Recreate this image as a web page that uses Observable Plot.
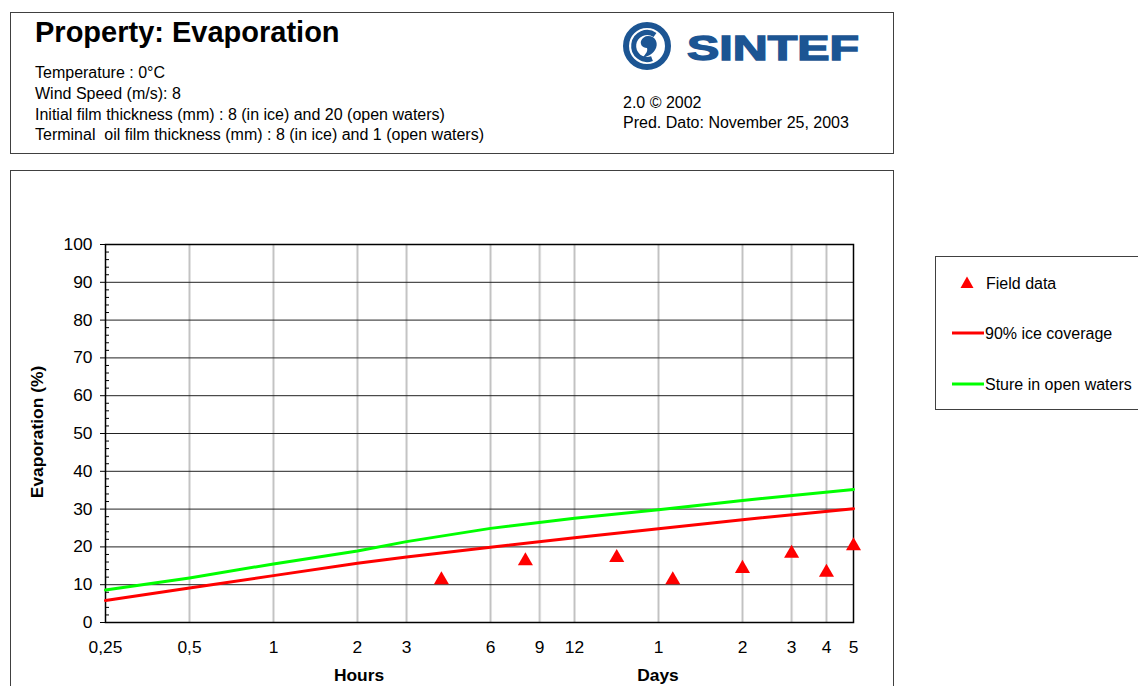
<!DOCTYPE html>
<html>
<head>
<meta charset="utf-8">
<script src="https://cdn.jsdelivr.net/npm/d3@7"></script>
<script src="https://cdn.jsdelivr.net/npm/@observablehq/plot@0.6"></script>
<style>
  html, body { margin: 0; padding: 0; background: #fff; }
  #page { position: relative; width: 1138px; height: 686px; overflow: hidden; background: #fff; font-family: "Liberation Sans", Arial, sans-serif; }
  #page svg { position: absolute; left: 0; top: 0; }
</style>
</head>
<body>
<div id="page">
<svg id="bg" width="1138" height="686" xmlns="http://www.w3.org/2000/svg" font-family="Liberation Sans, Arial, sans-serif">
  <!-- header box -->
  <rect x="10.5" y="12.5" width="883" height="141" fill="#fff" stroke="#404040" stroke-width="1"/>
  <text x="35" y="42" font-size="29" font-weight="bold" fill="#000">Property: Evaporation</text>
  <text x="35" y="78" font-size="16" fill="#000">Temperature : 0°C</text>
  <text x="35" y="99" font-size="16" fill="#000">Wind Speed (m/s): 8</text>
  <text x="35" y="120" font-size="16" fill="#000">Initial film thickness (mm) : 8 (in ice) and 20 (open waters)</text>
  <text x="35" y="140" font-size="16" fill="#000" xml:space="preserve">Terminal  oil film thickness (mm) : 8 (in ice) and 1 (open waters)</text>
  <text x="623" y="108" font-size="16" fill="#000">2.0 © 2002</text>
  <text x="623" y="128" font-size="16" fill="#000">Pred. Dato: November 25, 2003</text>
  <!-- logo -->
  <g fill="none" stroke="#1c5593">
    <circle cx="647" cy="46" r="21" stroke-width="6"/>
    <path d="M 655 35 A 13.5 13.5 0 1 0 652 58.6" stroke-width="5"/>
  </g>
  <path d="M 648 36 C 656 36 659 44 655 50 C 652 55 646 57 642 58 C 646 54 648 51 647 48 C 642 48 640 44 641 41 C 642 38 645 36 648 36 Z" fill="#1c5593"/>
  <text x="687" y="60" font-size="35" font-weight="bold" fill="#1c5593" stroke="#1c5593" stroke-width="1.4" textLength="172" lengthAdjust="spacingAndGlyphs">SINTEF</text>
  <!-- chart box -->
  <rect x="10.5" y="170.5" width="883" height="600" fill="#fff" stroke="#404040" stroke-width="1"/>
  <text transform="translate(43,432) rotate(-90)" font-size="17.4" font-weight="bold" text-anchor="middle" fill="#000">Evaporation (%)</text>
  <text x="359" y="681" font-size="17.4" font-weight="bold" text-anchor="middle" fill="#000">Hours</text>
  <text x="658" y="681" font-size="17.4" font-weight="bold" text-anchor="middle" fill="#000">Days</text>
  <!-- legend -->
  <rect x="935.5" y="256.5" width="250" height="153" fill="#fff" stroke="#404040" stroke-width="1"/>
  <path d="M 967 276.5 L 973.5 288 L 960.5 288 Z" fill="#ff0000"/>
  <text x="986" y="289" font-size="16" fill="#000">Field data</text>
  <line x1="952" x2="984" y1="333" y2="333" stroke="#ff0000" stroke-width="3"/>
  <text x="985" y="339" font-size="16" fill="#000">90% ice coverage</text>
  <line x1="952" x2="984" y1="384" y2="384" stroke="#00ff00" stroke-width="3"/>
  <text x="985" y="390" font-size="16" fill="#000">Sture in open waters</text>
</svg>
</div>
<script>
// ---- data ----
const modelHours = [0.25, 0.5, 1, 2, 3, 6, 12, 24, 48, 120];
const iceCoverage90 = [5.8, 9.1, 12.4, 15.7, 17.3, 19.9, 22.4, 24.8, 27.2, 30.1];
const stureOpenWaters = [8.6, 11.8, 15.5, 18.9, 21.4, 24.9, 27.6, 29.8, 32.3, 35.2];

const fieldHours = [4, 8, 17, 27, 48, 72, 96, 120];
const fieldEvap = [11.8, 16.8, 17.7, 11.8, 14.8, 18.8, 13.8, 20.8];

const xTicks = [0.25, 0.5, 1, 2, 3, 6, 9, 12, 24, 48, 72, 96, 120];
const xTickLabels = ["0,25", "0,5", "1", "2", "3", "6", "9", "12", "1", "2", "3", "4", "5"];
const xGridHours = [0.5, 1, 2, 3, 6, 9, 12, 24, 48, 72, 96];
const yTicks = [0, 10, 20, 30, 40, 50, 60, 70, 80, 90, 100];
const yGrid = [10, 20, 30, 40, 50, 60, 70, 80, 90];
const yMinor = d3.range(2, 100, 2).filter(v => v % 10 !== 0);

// ---- build tables ----
const redLine = modelHours.map((h, i) => ({h, v: iceCoverage90[i]}));
const greenLine = modelHours.map((h, i) => ({h, v: stureOpenWaters[i]}));
const field = fieldHours.map((h, i) => ({h, v: fieldEvap[i]}));
const xTickTable = xTicks.map((t, i) => ({t, label: xTickLabels[i]}));

const chart = Plot.plot({
  width: 1138,
  height: 686,
  marginLeft: 105,
  marginRight: 285,
  marginTop: 244,
  marginBottom: 64,
  x: {type: "log", domain: [0.25, 120], axis: null},
  y: {domain: [0, 100], axis: null},
  style: {background: "transparent", fontFamily: "Liberation Sans, Arial, sans-serif", overflow: "visible", color: "#000"},
  marks: [
    Plot.ruleX(xGridHours, {stroke: "#e2e2e2", strokeWidth: 3}),
    Plot.ruleX(xGridHours, {stroke: "#c2c2c2", strokeWidth: 1}),
    Plot.ruleY(yGrid, {stroke: "#222", strokeWidth: 1}),
    Plot.tickY(yMinor, {y: d => d, insetRight: 744, stroke: "#000"}),
    Plot.axisY({ticks: yTicks, tickSize: 5, tickPadding: 8, fontSize: 17.4, label: null, stroke: "#000"}),
    Plot.text(xTickTable, {x: "t", text: "label", frameAnchor: "bottom", lineAnchor: "top", dy: 18, fontSize: 17.4, fill: "#000"}),
    Plot.frame({stroke: "#000", strokeWidth: 1.5}),
    Plot.line(greenLine, {x: "h", y: "v", stroke: "#00ff00", strokeWidth: 3}),
    Plot.line(redLine, {x: "h", y: "v", stroke: "#ff0000", strokeWidth: 3}),
    Plot.dot(field, {x: "h", y: "v", symbol: "triangle", r: 5.6, fill: "#ff0000", stroke: null, dy: 2})
  ]
});
document.getElementById("page").appendChild(chart);
</script>
</body>
</html>
